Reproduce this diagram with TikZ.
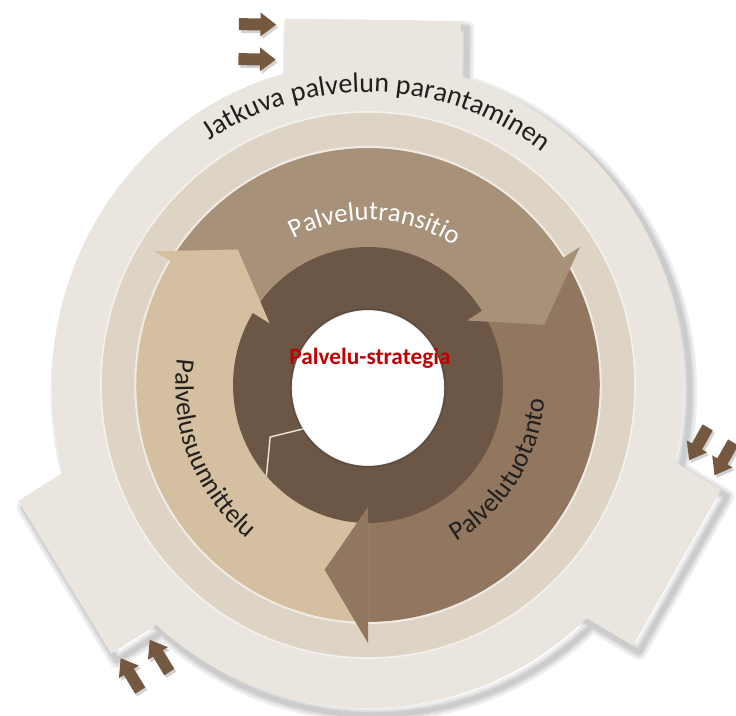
\documentclass[tikz,border=0pt]{standalone}
\usepackage{fontspec}
\setmainfont{Carlito}
\usetikzlibrary{decorations.text}

% outer ring with its three tabs, centred at (0,0)
\newcommand{\ringoutline}{(0,0) circle [radius=323]
  foreach \a in {-89.2,30,148.2} {(\a-13.85:375.9) -- (\a+13.85:375.9) -- (\a+18.96:277) -- (\a-18.96:277) -- cycle}}

\begin{document}
\begin{tikzpicture}[x=0.75pt,y=0.75pt,yscale=-1,xscale=1,
  curvedtext/.style={decorate, decoration={text along path, text align=center, text={#1}}},
  tabarrow/.style={fill={rgb, 255:red, 117; green, 88; blue, 64 }, preaction={fill={rgb, 255:red, 0; green, 0; blue, 0 }, fill opacity=0.18, transform canvas={xshift=1.5pt, yshift=-2pt}}}
]
\useasboundingbox (0,0) rectangle (736,716);

\begin{scope}[shift={(368,385)}, xscale=0.978]
%Shadow of the outer ring
\foreach \w in {11,7,4} {
\path [draw={rgb, 255:red, 0; green, 0; blue, 0 }, draw opacity=0.07, line width=\w pt, line join=round, shift={(6,7)}] \ringoutline ;
}
%Shape: Outer ring with tabs
\fill [fill={rgb, 255:red, 234; green, 229; blue, 222 }] \ringoutline ;
%Shape: Middle ring
\fill [fill={rgb, 255:red, 222; green, 212; blue, 198 }] (0,0) circle [radius=273] ;
\draw [draw={rgb, 255:red, 255; green, 255; blue, 255 }, draw opacity=0.6, line width=1.2pt] (0,0) circle [radius=273] ;

%Shape: Arc band - Palvelutransitio
\fill [fill={rgb, 255:red, 167; green, 145; blue, 121 }] (-148.5:237) arc [start angle=-148.5, end angle=-32.5, radius=237] -- (-32.5:137) arc [start angle=-32.5, end angle=-148.5, radius=137] -- cycle ;
%Shape: Arc band - Palvelutuotanto
\fill [fill={rgb, 255:red, 146; green, 119; blue, 96 }] (-32.5:237) arc [start angle=-32.5, end angle=90, radius=237] -- (90:137) arc [start angle=90, end angle=-32.5, radius=137] -- cycle ;
%Shape: Arc band - Palvelusuunnittelu
\fill [fill={rgb, 255:red, 212; green, 191; blue, 161 }] (90:237) arc [start angle=90, end angle=211.5, radius=237] -- (211.5:137) arc [start angle=211.5, end angle=90, radius=137] -- cycle ;
\draw [draw={rgb, 255:red, 255; green, 255; blue, 255 }, draw opacity=0.55, line width=1.5pt] (0,0) circle [radius=238] ;

%Shape: Strategy ring
\fill [fill={rgb, 255:red, 108; green, 87; blue, 71 }] (0,0) circle [radius=138] ;
\begin{scope}
\clip (0,0) circle [radius=138] ;
\draw [draw={rgb, 255:red, 236; green, 226; blue, 210 }, line width=1.1pt] (-106,112) -- (-100,52) -- (-50,40) ;
\end{scope}
%Shape: Centre circle
\fill [fill={rgb, 255:red, 255; green, 255; blue, 255 }] (0,3) circle [radius=78] ;
\draw [draw={rgb, 255:red, 0; green, 0; blue, 0 }, draw opacity=0.18, line width=1.5pt] (0,3) circle [radius=78.5] ;

%Shape: Arrow heads
\fill [fill={rgb, 255:red, 167; green, 145; blue, 121 }] (-32.5:257) -- (-18.5:190) -- (-32.5:120) -- cycle ;
\fill [fill={rgb, 255:red, 146; green, 119; blue, 96 }] (90:258) -- (103.5:190) -- (90:122) -- cycle ;
\fill [fill={rgb, 255:red, 212; green, 191; blue, 161 }] (211.5:256) -- (225.5:190) -- (211.5:118) -- cycle ;

% Curved texts
\path [curvedtext={|\color[RGB]{35,31,28}\fontsize{21}{25}\selectfont|Jatkuva palvelun parantaminen}] (-140:293) arc [start angle=-140, end angle=-36, radius=293] ;
\path [curvedtext={|\color[RGB]{255,255,255}\fontsize{20}{24}\selectfont|Palvelutransitio}] (-150:165) arc [start angle=-150, end angle=-25, radius=165] ;
\path [curvedtext={|\color[RGB]{35,31,28}\fontsize{20}{24}\selectfont|Palvelusuunnittelu}] (213:197) arc [start angle=213, end angle=103, radius=197] ;
\path [curvedtext={|\color[RGB]{35,31,28}\fontsize{20}{24}\selectfont|Palvelutuotanto}] (80:181) arc [start angle=80, end angle=-15, radius=181] ;

% Text Node
\node [anchor=base, font=\bfseries\fontsize{17.5}{21}\selectfont, color={rgb, 255:red, 192; green, 0; blue, 0 }] (strategia) at (2,-20) {Palvelu-strategia};

%Tab arrows - top
\begin{scope}[rotate=0.8]
\foreach \ay in {-359,-324} {
\fill [tabarrow] (-137,\ay-6) -- (-115,\ay-6) -- (-115,\ay-12) -- (-99,\ay) -- (-115,\ay+12) -- (-115,\ay+6) -- (-137,\ay+6) -- cycle ;
}
\end{scope}
%Tab arrows - right
\begin{scope}[rotate=120]
\foreach \ay in {-352,-322} {
\fill [tabarrow] (-137,\ay-6) -- (-115,\ay-6) -- (-115,\ay-12) -- (-99,\ay) -- (-115,\ay+12) -- (-115,\ay+6) -- (-137,\ay+6) -- cycle ;
}
\end{scope}
%Tab arrows - lower left
\begin{scope}[rotate=238.2]
\foreach \ay in {-359,-324} {
\fill [tabarrow] (-137,\ay-6) -- (-115,\ay-6) -- (-115,\ay-12) -- (-99,\ay) -- (-115,\ay+12) -- (-115,\ay+6) -- (-137,\ay+6) -- cycle ;
}
\end{scope}
\end{scope}

\end{tikzpicture}
\end{document}
